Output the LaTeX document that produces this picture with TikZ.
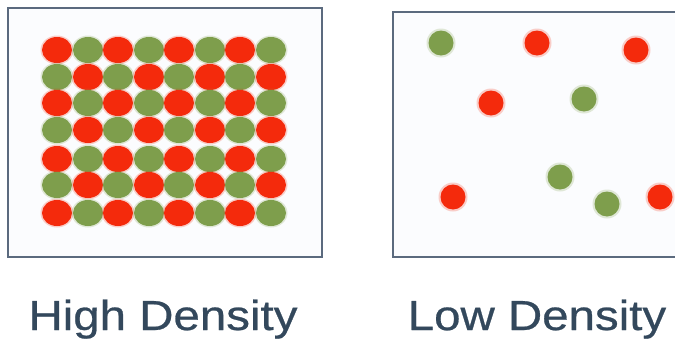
\documentclass[tikz,border=0pt]{standalone}
\usepackage{fontspec}
\setmainfont{Liberation Sans}
\newfontfamily\capfont[FakeStretch=1.13,FakeBold=0.6]{Liberation Sans}
\begin{document}
\begin{tikzpicture}[x=1pt,y=-1pt,
  panel/.style={draw=boxc,line width=2pt,fill=bgc},
  reddot/.style={fill=redc},
  greendot/.style={fill=greenc},
  halo/.style={fill=#1,opacity=0.22},
  caption/.style={text=textc,font=\capfont\fontsize{42}{42}\selectfont,anchor=base,inner sep=0pt}]
\definecolor{boxc}{HTML}{5B6A7E}
\definecolor{bgc}{HTML}{FBFCFE}
\definecolor{redc}{HTML}{F42A0C}
\definecolor{greenc}{HTML}{7E9E4C}
\definecolor{textc}{HTML}{33485C}
\clip (0,0) rectangle (675,343);
\fill[white] (0,0) rectangle (675,343);
% panels
\draw[panel] (8,8) rectangle (322,257);
\draw[panel] (393,12) rectangle (690,257);
% high density grid
\foreach \r/\y in {0/50,1/77,2/103,3/130,4/159,5/185,6/213}{
  \foreach \c/\x in {0/57,1/88,2/118,3/149,4/179,5/210,6/240,7/271}{
    \pgfmathtruncatemacro{\parity}{mod(\r+\c,2)}
    \ifnum\parity=0
      \fill[halo=redc] (\x,\y) ellipse [x radius=16.5pt,y radius=14.5pt];
      \fill[reddot] (\x,\y) ellipse [x radius=15pt,y radius=13pt];
    \else
      \fill[halo=greenc] (\x,\y) ellipse [x radius=16.5pt,y radius=14.5pt];
      \fill[greendot] (\x,\y) ellipse [x radius=15pt,y radius=13pt];
    \fi
  }
}
% low density dots
\foreach \x/\y/\col in {441/43/greenc,537/43/redc,636/50/redc,491/103/redc,584/99/greenc,560/177/greenc,453/197/redc,607/204/greenc,660/197/redc}{
  \fill[halo=\col] (\x,\y) circle [radius=14.5pt];
  \fill[fill=\col] (\x,\y) circle [radius=12.5pt];
}
% captions
\node[caption] (hd) at (163,330) {High Density};
\node[caption] (ld) at (537,330) {Low Density};
\end{tikzpicture}
\end{document}
